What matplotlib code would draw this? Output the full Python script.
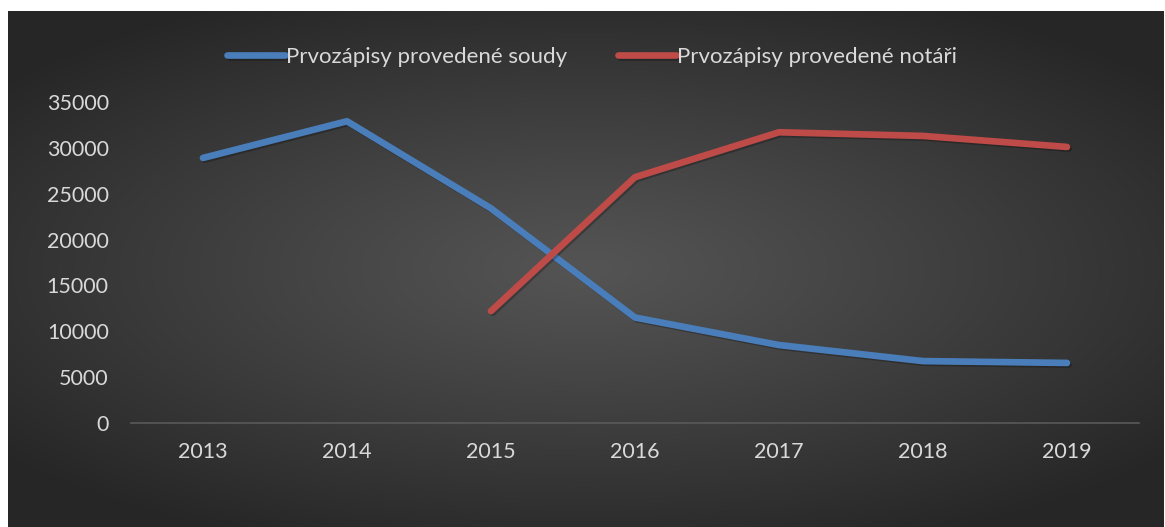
import numpy as np
import matplotlib
matplotlib.use("Agg")
import matplotlib.pyplot as plt
import matplotlib.patheffects as pe

plt.rcParams['font.family'] = ['Lato', 'DejaVu Sans']

years = [2013, 2014, 2015, 2016, 2017, 2018, 2019]
soudy = [28900, 32900, 23400, 11500, 8500, 6750, 6550]
notari_years = [2015, 2016, 2017, 2018, 2019]
notari = [12200, 26800, 31700, 31300, 30100]

W, H = 1165, 527
fig = plt.figure(figsize=(W / 100, H / 100), dpi=100)
fig.patch.set_facecolor('white')

# dark radial gradient panel
bg = fig.add_axes([8 / W, 0, 1 - 8 / W - 1 / W, 1 - 11 / H])
bg.set_axis_off()
yy, xx = np.mgrid[-1:1:300j, -1:1:600j]
r = np.sqrt((xx / 1.0) ** 2 + (yy / 0.9) ** 2)
r = np.clip(r / 1.3, 0, 1)
c0, c1 = 0.33, 0.15
img = c0 + (c1 - c0) * r ** 1.1
bg.imshow(np.dstack([img, img, img]), aspect='auto', extent=[0, 1, 0, 1])

# plot area: y=0 at px 423, 35000 at px 102; x axis from px 131 to 1139
top_px, bot_px = 102, 423
left_px, right_px = 131, 1139
ax = fig.add_axes([left_px / W, 1 - bot_px / H, (right_px - left_px) / W,
                   (bot_px - top_px) / H])
ax.patch.set_alpha(0)
ax.set_ylim(0, 35000)
ax.set_xlim(2012.5, 2019.5)

shadow = [pe.SimpleLineShadow(offset=(1.2, -1.2), alpha=0.25, shadow_color='black'),
          pe.Normal()]
ax.plot(years, soudy, color='#4a7ebb', lw=4.8, solid_capstyle='round',
        solid_joinstyle='round', path_effects=shadow,
        label='Prvozápisy provedené soudy')
ax.plot(notari_years, notari, color='#be4b48', lw=4.8, solid_capstyle='round',
        solid_joinstyle='round', path_effects=shadow,
        label='Prvozápisy provedené notáři')

ax.set_xticks(years)
ax.set_xticklabels([str(y) for y in years])
ax.set_yticks(range(0, 35001, 5000))
ax.tick_params(colors='#d9d9d9', labelsize=15.5, length=0)
ax.tick_params(axis='x', pad=14)
ax.tick_params(axis='y', pad=16)
for s in ['top', 'right', 'left']:
    ax.spines[s].set_visible(False)
ax.spines['bottom'].set_color('#595959')
ax.spines['bottom'].set_linewidth(1.2)

leg = fig.legend(loc='center', bbox_to_anchor=(592 / W, 1 - 57 / H), ncol=2,
                 frameon=False, fontsize=16, handlelength=2.6, handletextpad=0.05,
                 columnspacing=2.3)
for t in leg.get_texts():
    t.set_color('#d9d9d9')

fig.savefig('out.png', dpi=100, facecolor=fig.get_facecolor())
